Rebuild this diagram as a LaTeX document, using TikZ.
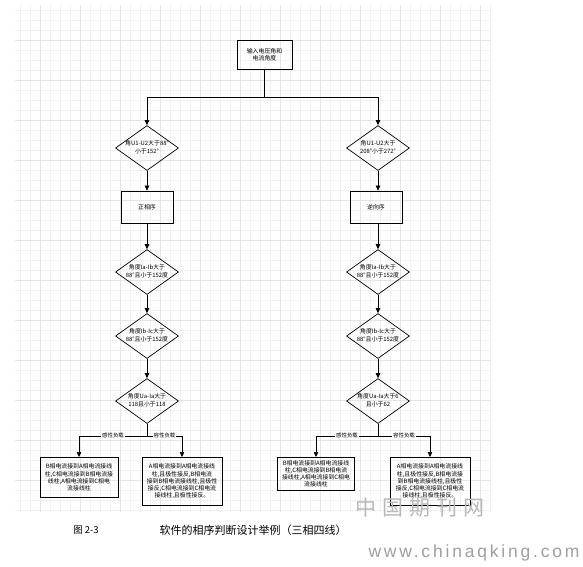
\documentclass[tikz,border=0pt]{standalone}
\usepackage{fontspec}
\setmainfont{Noto Sans CJK SC}
\newfontfamily\wmfont[LetterSpace=16]{Liberation Sans}
\newfontfamily\wmcjk[LetterSpace=28]{Noto Sans CJK SC}
\usepackage{tikz}
\usetikzlibrary{positioning,arrows.meta,shapes.geometric}

\begin{document}
\begin{tikzpicture}[
  x=1pt, y=-1pt,
  font=\fontsize{5.9}{7.2}\selectfont,
  step10/.style={draw=gray!11, line width=0.3pt},
  step40/.style={draw=gray!20, line width=0.4pt},
  box/.style={rectangle, draw, line width=0.7pt, align=center, inner sep=1pt},
  cond/.style={diamond, draw, line width=0.7pt, minimum width=63pt, minimum height=45pt, inner sep=0pt},
  arr/.style={-{Triangle[length=5pt, width=4.5pt]}, line width=0.6pt},
  tag/.style={fill=white, inner sep=0.8pt, font=\fontsize{5.4}{6}\selectfont},
]
\useasboundingbox (0,0) rectangle (583,566);
\fill[white] (0,0) rectangle (583,566);
% grid
\foreach \gx in {20,30,...,490} \draw[step10] (\gx,5) -- (\gx,512);
\foreach \gy in {10,20,...,510} \draw[step10] (15,\gy) -- (490,\gy);
\foreach \gx in {40,80,...,480} \draw[step40] (\gx,5) -- (\gx,512);
\foreach \gy in {40,80,...,480} \draw[step40] (15,\gy) -- (490,\gy);

\node[box, minimum width=55pt, minimum height=29pt] (in) at (264.5,54.5) {输入电压角和\\电流角度};

% left branch
\node[cond, label={center:\begin{tabular}{@{}c@{}}角U1-U2大于88°\\小于152°\end{tabular}}] (l1) at (147,148) {};
\node[box, minimum width=52pt, minimum height=32pt] (lb) at (147,207) {正相序};
\node[cond, label={center:\begin{tabular}{@{}c@{}}角度Ia-Ib大于\\88°且小于152度\end{tabular}}] (l2) at (147,272) {};
\node[cond, label={center:\begin{tabular}{@{}c@{}}角度Ib-Ic大于\\88°且小于152度\end{tabular}}] (l3) at (147,336) {};
\node[cond, label={center:\begin{tabular}{@{}c@{}}角度Ua-Ia大于\\118且小于118\end{tabular}}] (l4) at (147,401) {};
\node[box, anchor=north, minimum width=78pt, minimum height=40pt] (l5) at (79,457)
  {B相电流接到A相电流接线\\柱,C相电流接到B相电流接\\线柱,A相电流接到C相电\\流接线柱};
\node[box, anchor=north, minimum width=80pt, minimum height=48pt] (l6) at (182,457)
  {A相电流接到A相电流接线\\柱,且极性接反,B相电流\\接到B相电流接线柱,且极性\\接反,C相电流接到C相电流\\接线柱,且极性接反。};

% right branch
\node[cond, label={center:\begin{tabular}{@{}c@{}}角U1-U2大于\\208°小于272°\end{tabular}}] (r1) at (378,148) {};
\node[box, minimum width=52pt, minimum height=32pt] (rb) at (376,207) {逆向序};
\node[cond, label={center:\begin{tabular}{@{}c@{}}角度Ia-Ib大于\\88°且小于152度\end{tabular}}] (r2) at (378,272) {};
\node[cond, label={center:\begin{tabular}{@{}c@{}}角度Ib-Ic大于\\88°且小于152度\end{tabular}}] (r3) at (378,336) {};
\node[cond, label={center:\begin{tabular}{@{}c@{}}角度Ua-Ia大于6\\且小于62\end{tabular}}] (r4) at (378,401) {};
\node[box, anchor=north, minimum width=77pt, minimum height=33pt] (r5) at (316,457)
  {B相电流接到A相电流接线\\柱,C相电流接到B相电流\\接线柱,A相电流接到C相电\\流接线柱};
\node[box, anchor=north, minimum width=80pt, minimum height=48pt] (r6) at (430,457)
  {A相电流接到A相电流接线\\柱,且极性接反,B相电流接\\到B相电流接线柱,且极性\\接反,C相电流接到C相电流\\接线柱,且极性接反。};

\draw[arr] (in.south) -- ++(0,28) -| (l1.north);
\draw[arr] (in.south) -- ++(0,28) -| (r1.north);

\draw[arr] (l1) -- (lb);
\draw[arr] (lb) -- (l2);
\draw[arr] (l2) -- (l3);
\draw[arr] (l3) -- (l4);
\draw[arr] (l4.south) -- ++(0,12) -| node[tag, pos=0.25] {感性负载} (l5.north);
\draw[arr] (l4.south) -- ++(0,12) -| node[tag, pos=0.25] {容性负载} (l6.north);

\draw[arr] (r1) -- (r1 |- rb.north);
\draw[arr] (r1 |- rb.south) -- (r2);
\draw[arr] (r2) -- (r3);
\draw[arr] (r3) -- (r4);
\draw[arr] (r4.south) -- ++(0,12) -| node[tag, pos=0.25] {感性负载} (r5.north);
\draw[arr] (r4.south) -- ++(0,12) -| node[tag, pos=0.25] {容性负载} (r6.north);

% caption and watermark
\node[font=\fontsize{9.5}{10}\selectfont] (fig) at (86,530) {图 2-3};
\node[font=\fontsize{11}{12}\selectfont, anchor=west] (cap) at (156,530) {软件的相序判断设计举例（三相四线）};
\node[font=\wmcjk\fontsize{21}{22}\selectfont, text=gray!55] (wm) at (420,508) {中国期刊网};
\node[font=\wmfont\fontsize{17.5}{18}\selectfont, text=gray!75] (url) at (474,553) {www.chinaqking.com};
\end{tikzpicture}
\end{document}
